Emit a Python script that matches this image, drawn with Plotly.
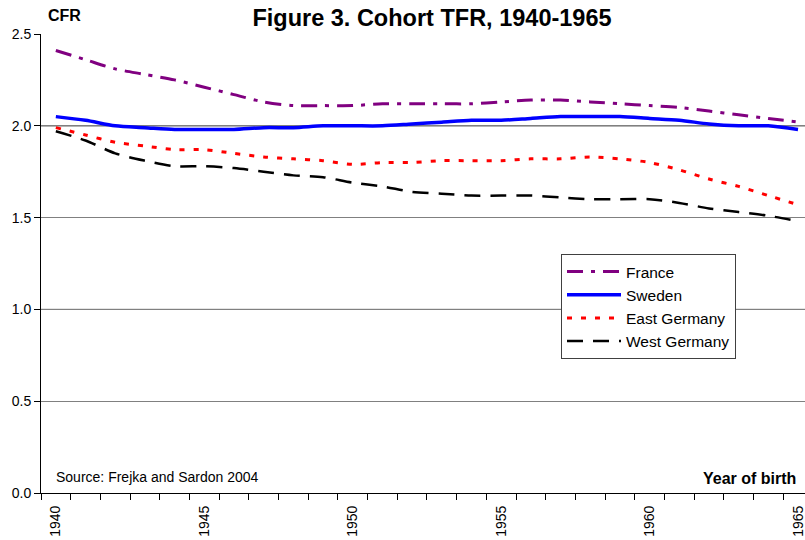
import plotly.graph_objects as go

years = list(range(1940, 1966))
france = [2.41, 2.36, 2.31, 2.28, 2.25, 2.21, 2.17, 2.13, 2.11, 2.11, 2.11, 2.12, 2.12,
          2.12, 2.12, 2.13, 2.14, 2.14, 2.13, 2.12, 2.11, 2.10, 2.08, 2.06, 2.04, 2.02]
sweden = [2.05, 2.03, 2.00, 1.99, 1.98, 1.98, 1.98, 1.99, 1.99, 2.00, 2.00, 2.00, 2.01,
          2.02, 2.03, 2.03, 2.04, 2.05, 2.05, 2.05, 2.04, 2.03, 2.01, 2.00, 2.00, 1.98]
east_germany = [1.99, 1.95, 1.91, 1.89, 1.87, 1.87, 1.85, 1.83, 1.82, 1.81, 1.79, 1.80, 1.80,
                1.81, 1.81, 1.81, 1.82, 1.82, 1.83, 1.82, 1.80, 1.76, 1.71, 1.67, 1.62, 1.57]
west_germany = [1.97, 1.92, 1.85, 1.81, 1.78, 1.78, 1.77, 1.75, 1.73, 1.72, 1.69, 1.67, 1.64,
                1.63, 1.62, 1.62, 1.62, 1.61, 1.60, 1.60, 1.60, 1.58, 1.55, 1.53, 1.51, 1.48]
x_tick_years = [1940, 1945, 1950, 1955, 1960, 1965]
y_ticks = [0.0, 0.5, 1.0, 1.5, 2.0, 2.5]

FONT = "Liberation Sans, Arial, sans-serif"

fig = go.Figure()
series = [
    ("France", france, "#800080", 3, "16px,8px,4px,8px"),
    ("Sweden", sweden, "#0000FF", 3.5, "solid"),
    ("East Germany", east_germany, "#FF0000", 3, "5px,9px"),
    ("West Germany", west_germany, "#000000", 2.5, "16px,10px"),
]
for name, vals, color, w, dash in series:
    fig.add_trace(go.Scatter(
        x=years, y=vals, name=name, mode="lines",
        line=dict(color=color, width=w, dash=dash, shape="spline", smoothing=0.8),
    ))

# darker gridlines at 1.0 and 2.0 as in the reference
for yv in (1.0, 2.0):
    fig.add_shape(type="line", xref="paper", x0=0, x1=1, yref="y", y0=yv, y1=yv,
                  line=dict(color="black", width=1), layer="below")

fig.update_layout(
    width=805, height=540,
    margin=dict(l=41, r=0, t=34, b=47),
    paper_bgcolor="white", plot_bgcolor="white",
    font=dict(family=FONT, color="black", size=14),
    title=dict(text="<b>Figure 3. Cohort TFR, 1940-1965</b>", x=432/805, xref="container",
               xanchor="center", y=1 - 18/540, yref="container", yanchor="middle",
               font=dict(size=23.5, family=FONT, color="black")),
    showlegend=True,
    legend=dict(x=(561-41)/764, xanchor="left", y=(493-254)/459, yanchor="top",
                bgcolor="white", bordercolor="#404040", borderwidth=1,
                font=dict(size=15.5, family=FONT, color="black"),
                tracegroupgap=0, itemwidth=54),
    xaxis=dict(
        range=[1939.5, 1965.235], tickmode="array", tickvals=x_tick_years,
        ticktext=[str(v) for v in x_tick_years], tickangle=-90,
        ticks="outside", ticklen=6, tickcolor="rgba(0,0,0,0)",
        ticklabeloverflow="allow",
        tickfont=dict(size=14, family=FONT, color="black"),
        showline=True, linecolor="black", linewidth=1,
        showgrid=False, zeroline=False,
        minor=dict(ticks="outside", ticklen=6, tickcolor="black", tickwidth=1,
                   tick0=1939.5, dtick=1, showgrid=False),
    ),
    yaxis=dict(
        range=[0, 2.5], tickmode="array", tickvals=y_ticks,
        ticktext=[f"{v:.1f}" for v in y_ticks],
        ticks="outside", ticklen=6, tickcolor="black",
        tickfont=dict(size=14, family=FONT, color="black"),
        showline=True, linecolor="black", linewidth=1,
        showgrid=True, gridcolor="#808080", gridwidth=1, zeroline=False,
    ),
    annotations=[
        dict(text="<b>CFR</b>", xref="paper", yref="paper", x=(46-41)/764, y=(493-15)/459,
             xanchor="left", yanchor="middle", showarrow=False,
             font=dict(size=16, family=FONT, color="black")),
        dict(text="Source: Frejka and Sardon 2004", xref="paper", yref="paper",
             x=(54-41)/764, y=(493-477)/459, xanchor="left", yanchor="middle",
             showarrow=False, font=dict(size=14, family=FONT, color="black")),
        dict(text="<b>Year of birth</b>", xref="paper", yref="paper",
             x=(798-41)/764, y=(493-478)/459, xanchor="right", yanchor="middle",
             showarrow=False, font=dict(size=16, family=FONT, color="black")),
    ],
)

fig.write_html("out.html", config={"displayModeBar": False},
               post_script="document.body.style.margin='0px';document.body.style.overflow='hidden';")
